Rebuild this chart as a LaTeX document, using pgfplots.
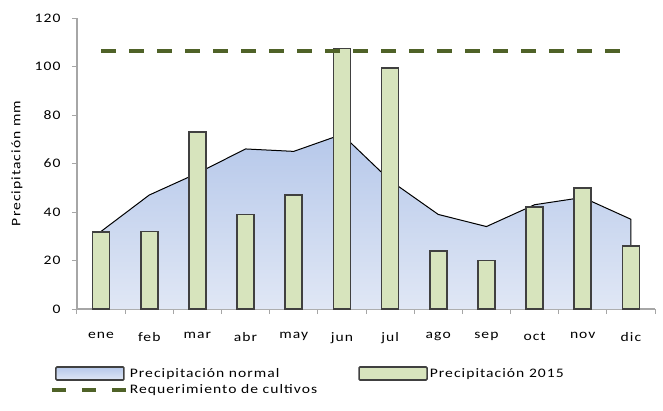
\documentclass[border=0pt]{standalone}
\usepackage{pgfplots}
\pgfplotsset{compat=1.18}
\usepackage{fontspec}
\setmainfont{Carlito}[FakeStretch=1.2,LetterSpace=8]
\definecolor{areatop}{RGB}{182,200,234}
\definecolor{areabot}{RGB}{224,231,245}
\definecolor{barfill}{RGB}{215,228,189}
\definecolor{baredge}{RGB}{64,64,64}
\definecolor{dashcol}{RGB}{79,98,40}
\definecolor{axgray}{RGB}{166,166,166}
\begin{document}
\begin{tikzpicture}[font=\fontsize{13}{15.5}\selectfont]
\path[use as bounding box] (-77pt,-101pt) rectangle (586pt,309pt);
\begin{axis}[
  at={(0,0)}, anchor=south west,
  scale only axis, width=578pt, height=291pt,
  xmin=-0.5, xmax=11.5, ymin=0, ymax=120,
  xtick={0,...,11},
  xticklabels={ene,feb,mar,abr,may,jun,jul,ago,sep,oct,nov,dic},
  minor xtick={-0.5,0.5,...,11.5},
  ytick={0,20,...,120},
  axis x line*=bottom, axis y line*=left,
  axis line style={-, draw=axgray, line width=1.3pt},
  every outer x axis line/.append style={-},
  every outer y axis line/.append style={-},
  tick align=outside,
  major tick length=5pt, minor tick length=5pt,
  tick style={draw=axgray, line width=1pt},
  major x tick style={draw=none},
  /pgf/number format/assume math mode=true,
  yticklabel style={xshift=-8pt},
  xticklabel style={yshift=-15pt},
  ylabel={Precipitación mm},
  ylabel style={at={(axis description cs:-0.104,0.5)}, anchor=center},
  legend columns=2,
  legend cell align=left,
  legend style={draw=none, fill=none, inner sep=0pt,
    at={(axis description cs:-0.047,-0.196)}, anchor=north west,
    nodes={inner sep=2pt},
    row sep=2pt,
    /tikz/every even column/.append style={column sep=39pt}},
]
\addplot[draw=none, top color=areatop, bottom color=areabot,
  legend image code/.code={\draw[fill=areabot!70!areatop, draw=baredge, line width=1.6pt, rounded corners=1pt] (0pt,-6.5pt) rectangle (68pt,6.5pt);}]
  coordinates {(0,32) (1,47) (2,56) (3,66) (4,65) (5,72) (6,53) (7,39) (8,34) (9,43) (10,46) (11,37)} \closedcycle;
\addlegendentry{Precipitación normal}
\addplot[black, line width=1pt, forget plot]
  coordinates {(0,32) (1,47) (2,56) (3,66) (4,65) (5,72) (6,53) (7,39) (8,34) (9,43) (10,46) (11,37) (11,0)};
\addplot[ybar, bar width=17pt, bar shift=0pt, fill=barfill, draw=baredge, line width=1.6pt,
  legend image code/.code={\draw[fill=barfill, draw=baredge, line width=1.6pt, rounded corners=1pt] (0pt,-6.5pt) rectangle (68pt,6.5pt);}]
  coordinates {(0,31.7) (1,32) (2,73) (3,39) (4,47) (5,107.5) (6,99.5) (7,24) (8,20) (9,42) (10,50) (11,26)};
\addlegendentry{Precipitación 2015}
\addplot[dashcol, line width=3.8pt, dash pattern=on 15pt off 13pt,
  legend image code/.code={\draw[dashcol, line width=3.8pt, dash pattern=on 14pt off 16pt] (-4pt,0pt) -- (70pt,0pt);}]
  coordinates {(0,106.5) (1,106.5) (2,106.5) (3,106.5) (4,106.5) (5,106.5) (6,106.5) (7,106.5) (8,106.5) (9,106.5) (10,106.5) (11,106.5)};
\addlegendentry{Requerimiento de cultivos}
\end{axis}
\end{tikzpicture}
\end{document}
